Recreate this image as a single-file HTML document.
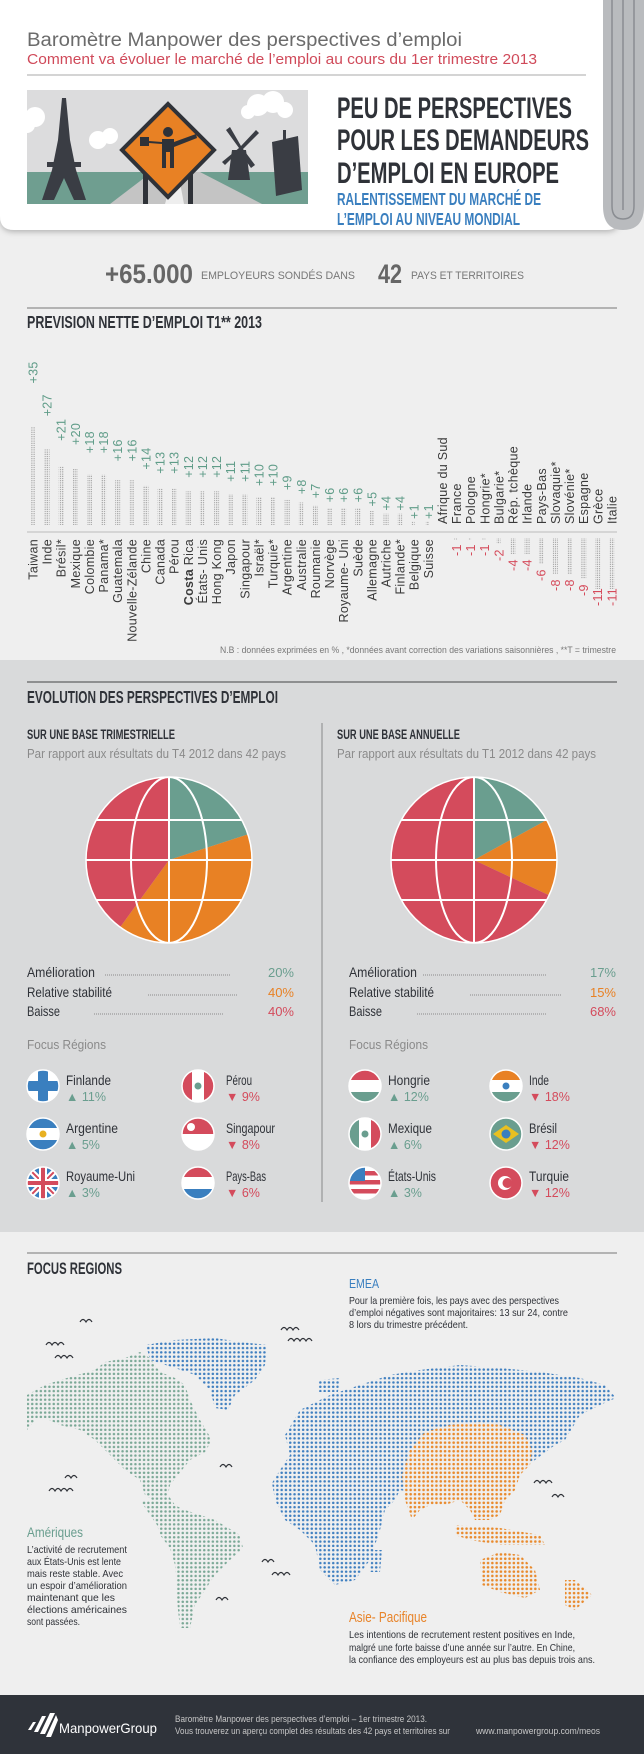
<!DOCTYPE html>
<html><head><meta charset="utf-8"><style>html,body{margin:0;padding:0;background:#efefef}svg{display:block}</style></head><body>
<svg width="644" height="1754" viewBox="0 0 644 1754" xmlns="http://www.w3.org/2000/svg" font-family="'Liberation Sans', sans-serif">
<defs>
<pattern id="dp" patternUnits="userSpaceOnUse" width="2.2" height="2.2"><circle cx="1.1" cy="1.1" r="0.6" fill="#8a8a8a"/></pattern>
<pattern id="mg" patternUnits="userSpaceOnUse" width="4.3" height="4.3"><circle cx="2.15" cy="2.15" r="1.25" fill="#7aa896"/></pattern>
<pattern id="mb" patternUnits="userSpaceOnUse" width="4.3" height="4.3"><circle cx="2.15" cy="2.15" r="1.25" fill="#3f7fc0"/></pattern>
<pattern id="mo" patternUnits="userSpaceOnUse" width="4.3" height="4.3"><rect width="4.3" height="4.3" fill="#efefef"/><circle cx="2.15" cy="2.15" r="1.3" fill="#e98a2c"/></pattern>
<clipPath id="cl"><circle cx="169" cy="860" r="83"/></clipPath>
<clipPath id="cr"><circle cx="474" cy="860" r="83"/></clipPath>
<filter id="sh" x="-5%" y="-5%" width="110%" height="120%"><feDropShadow dx="0" dy="2" stdDeviation="3" flood-color="#000" flood-opacity="0.25"/></filter>
<clipPath id="fc"><circle r="16"/></clipPath>
</defs>

<!-- backgrounds -->
<rect width="644" height="1754" fill="#efefef"/>
<rect y="660" width="644" height="572" fill="#d9dadb"/>

<!-- header card -->
<path d="M0 0 H620 V216 Q620 230 606 230 H14 Q0 230 0 216 Z" fill="#fff" filter="url(#sh)"/>
<path d="M603 0 H644 V206 Q644 230 623 230 Q603 230 603 206 Z" fill="#b9bbbe"/>
<path d="M612 0 V206 Q612 219 623 219 Q634 219 634 206 V0" fill="none" stroke="#8a8d92" stroke-width="1.5"/>
<path d="M623 0 V210" fill="none" stroke="#8a8d92" stroke-width="1.5"/>

<text x="27" y="46" font-size="19" fill="#6b6b6b" textLength="435" lengthAdjust="spacingAndGlyphs">Baromètre Manpower des perspectives d’emploi</text>
<text x="27" y="64" font-size="14.5" fill="#d04a5a" textLength="510" lengthAdjust="spacingAndGlyphs">Comment va évoluer le marché de l’emploi au cours du 1er trimestre 2013</text>
<line x1="27" y1="75" x2="586" y2="75" stroke="#aaa" stroke-width="1"/>

<!-- illustration -->
<g>
<rect x="27" y="90" width="281" height="114" fill="#dcdcdd"/>
<rect x="27" y="172" width="281" height="32" fill="#6f9e90"/>
<circle cx="35" cy="117" r="10" fill="#fff"/><circle cx="27" cy="125" r="8" fill="#fff"/>
<circle cx="98" cy="140" r="9" fill="#fff"/><circle cx="110" cy="136" r="8" fill="#fff"/>
<circle cx="258" cy="105" r="11" fill="#fff"/><circle cx="273" cy="102" r="11" fill="#fff"/><circle cx="285" cy="110" r="8" fill="#fff"/><circle cx="248" cy="112" r="7" fill="#fff"/>
<path d="M110 204 L152 172 H200 L262 204 Z" fill="#c4c4c4"/>
<path d="M165 204 L174 172 H178 L184 204 Z" fill="#eee"/>
<path d="M62 98 L66 98 L70 140 L76 170 L86 200 L74 200 L64 178 L54 200 L42 200 L52 170 L58 140 Z" fill="#3a3d44"/>
<rect x="47" y="162" width="34" height="5" fill="#3a3d44"/>
<rect x="143" y="170" width="5" height="34" fill="#2f3238"/><rect x="188" y="170" width="5" height="34" fill="#2f3238"/>
<path d="M168 104 L214 150 L168 197 L122 150 Z" fill="#e88124" stroke="#2f3238" stroke-width="4"/>
<circle cx="168" cy="132" r="5" fill="#2f3238"/>
<path d="M162 139 H174 V168 H170 V152 H166 V168 H162 Z" fill="#2f3238"/>
<path d="M174 142 L196 134 L197 138 L174 147 Z" fill="#2f3238"/>
<rect x="140" y="137" width="9" height="9" fill="#2f3238"/><line x1="149" y1="142" x2="162" y2="143" stroke="#2f3238" stroke-width="2"/>
<path d="M232 150 L246 150 L250 180 L228 180 Z" fill="#3a3d44"/>
<path d="M239 148 L226 130 L230 127 L241 146 L256 130 L259 133 L243 149 L255 165 L251 168 L239 151 L225 165 L222 162 Z" fill="#3a3d44"/>
<path d="M272 142 L298 136 L302 190 L276 196 Z" fill="#3a3d44"/>
<rect x="283" y="130" width="3" height="10" fill="#3a3d44"/>
</g>

<g font-family="'Liberation Sans Narrow','Liberation Sans',sans-serif" font-weight="bold" fill="#2f3238">
<text x="337" y="118" font-size="30" textLength="235" lengthAdjust="spacingAndGlyphs">PEU DE PERSPECTIVES</text>
<text x="337" y="150" font-size="30" textLength="252" lengthAdjust="spacingAndGlyphs">POUR LES DEMANDEURS</text>
<text x="337" y="183" font-size="30" textLength="222" lengthAdjust="spacingAndGlyphs">D’EMPLOI EN EUROPE</text>
<text x="337" y="205" font-size="17.5" fill="#3a7fbf" textLength="204" lengthAdjust="spacingAndGlyphs">RALENTISSEMENT DU MARCHÉ DE</text>
<text x="337" y="225" font-size="17.5" fill="#3a7fbf" textLength="183" lengthAdjust="spacingAndGlyphs">L’EMPLOI AU NIVEAU MONDIAL</text>
<text x="105" y="283" font-size="27" fill="#666" textLength="88" lengthAdjust="spacingAndGlyphs">+65.000</text>
<text x="378" y="283" font-size="27" fill="#666" textLength="24" lengthAdjust="spacingAndGlyphs">42</text>
<text x="27" y="328" font-size="17.5" textLength="235" lengthAdjust="spacingAndGlyphs">PREVISION NETTE D’EMPLOI T1** 2013</text>
</g>
<text x="201" y="279" font-size="11" fill="#777" textLength="154" lengthAdjust="spacingAndGlyphs">EMPLOYEURS SONDÉS DANS</text>
<text x="411" y="279" font-size="11" fill="#777" textLength="113" lengthAdjust="spacingAndGlyphs">PAYS ET TERRITOIRES</text>
<line x1="27" y1="308" x2="617" y2="308" stroke="#777" stroke-width="1"/>

<!-- bar chart -->
<line x1="27" y1="532" x2="617" y2="532" stroke="#bbb" stroke-width="1"/>
<g font-size="12.5" fill="#3a3a3a" letter-spacing="0.3">
<!-- positives: bars -->
<g fill="url(#dp)">
<rect x="30.5" y="427" width="5" height="98"/>
<rect x="44.6" y="449.4" width="5" height="75.6"/>
<rect x="58.7" y="466.2" width="5" height="58.8"/>
<rect x="72.9" y="469" width="5" height="56"/>
<rect x="87" y="474.6" width="5" height="50.4"/>
<rect x="101.1" y="474.6" width="5" height="50.4"/>
<rect x="115.2" y="480.2" width="5" height="44.8"/>
<rect x="129.3" y="480.2" width="5" height="44.8"/>
<rect x="143.5" y="485.8" width="5" height="39.2"/>
<rect x="157.6" y="488.6" width="5" height="36.4"/>
<rect x="171.7" y="488.6" width="5" height="36.4"/>
<rect x="185.8" y="491.4" width="5" height="33.6"/>
<rect x="199.9" y="491.4" width="5" height="33.6"/>
<rect x="214.1" y="491.4" width="5" height="33.6"/>
<rect x="228.2" y="494.2" width="5" height="30.8"/>
<rect x="242.3" y="494.2" width="5" height="30.8"/>
<rect x="256.4" y="497" width="5" height="28"/>
<rect x="270.5" y="497" width="5" height="28"/>
<rect x="284.7" y="499.8" width="5" height="25.2"/>
<rect x="298.8" y="502.6" width="5" height="22.4"/>
<rect x="312.9" y="505.4" width="5" height="19.6"/>
<rect x="327" y="508.2" width="5" height="16.8"/>
<rect x="341.1" y="508.2" width="5" height="16.8"/>
<rect x="355.3" y="508.2" width="5" height="16.8"/>
<rect x="369.4" y="511" width="5" height="14"/>
<rect x="383.5" y="513.8" width="5" height="11.2"/>
<rect x="397.6" y="513.8" width="5" height="11.2"/>
<rect x="411.7" y="521" width="3" height="4"/>
<rect x="425.9" y="521" width="3" height="4"/>
<!-- negatives -->
<rect x="454.1" y="538" width="3" height="2"/>
<rect x="468.2" y="538" width="3" height="2"/>
<rect x="482.3" y="538" width="3" height="2"/>
<rect x="496.5" y="538" width="4" height="6"/>
<rect x="510.6" y="538" width="5" height="16"/>
<rect x="524.7" y="538" width="5" height="16"/>
<rect x="538.8" y="538" width="5" height="26"/>
<rect x="552.9" y="538" width="5" height="36"/>
<rect x="567.1" y="538" width="5" height="36"/>
<rect x="581.2" y="538" width="5" height="41"/>
<rect x="595.3" y="538" width="5" height="51"/>
<rect x="609.4" y="538" width="5" height="51"/>
<rect x="623.5" y="538" width="0" height="0"/>
</g>
<!-- positive values -->
<g fill="#5f9c88">
<text transform="translate(37.5,383.5) rotate(-90)">+35</text>
<text transform="translate(51.6,416.3) rotate(-90)">+27</text>
<text transform="translate(65.7,440.9) rotate(-90)">+21</text>
<text transform="translate(79.9,445) rotate(-90)">+20</text>
<text transform="translate(94,453.2) rotate(-90)">+18</text>
<text transform="translate(108.1,453.2) rotate(-90)">+18</text>
<text transform="translate(122.2,461.4) rotate(-90)">+16</text>
<text transform="translate(136.3,461.4) rotate(-90)">+16</text>
<text transform="translate(150.5,469.6) rotate(-90)">+14</text>
<text transform="translate(164.6,473.7) rotate(-90)">+13</text>
<text transform="translate(178.7,473.7) rotate(-90)">+13</text>
<text transform="translate(192.8,477.8) rotate(-90)">+12</text>
<text transform="translate(206.9,477.8) rotate(-90)">+12</text>
<text transform="translate(221.1,477.8) rotate(-90)">+12</text>
<text transform="translate(235.2,481.9) rotate(-90)">+11</text>
<text transform="translate(249.3,481.9) rotate(-90)">+11</text>
<text transform="translate(263.4,486) rotate(-90)">+10</text>
<text transform="translate(277.5,486) rotate(-90)">+10</text>
<text transform="translate(291.7,490.1) rotate(-90)">+9</text>
<text transform="translate(305.8,494.2) rotate(-90)">+8</text>
<text transform="translate(319.9,498.3) rotate(-90)">+7</text>
<text transform="translate(334,502.4) rotate(-90)">+6</text>
<text transform="translate(348.1,502.4) rotate(-90)">+6</text>
<text transform="translate(362.3,502.4) rotate(-90)">+6</text>
<text transform="translate(376.4,506.5) rotate(-90)">+5</text>
<text transform="translate(390.5,510.6) rotate(-90)">+4</text>
<text transform="translate(404.6,510.6) rotate(-90)">+4</text>
<text transform="translate(418.7,519) rotate(-90)">+1</text>
<text transform="translate(432.9,519) rotate(-90)">+1</text>
</g>
<!-- positive names -->
<g text-anchor="end">
<text transform="translate(37.5,539) rotate(-90)">Taiwan</text>
<text transform="translate(51.6,539) rotate(-90)">Inde</text>
<text transform="translate(65.7,539) rotate(-90)">Brésil*</text>
<text transform="translate(79.9,539) rotate(-90)">Mexique</text>
<text transform="translate(94,539) rotate(-90)">Colombie</text>
<text transform="translate(108.1,539) rotate(-90)">Panama*</text>
<text transform="translate(122.2,539) rotate(-90)">Guatemala</text>
<text transform="translate(136.3,539) rotate(-90)">Nouvelle-Zélande</text>
<text transform="translate(150.5,539) rotate(-90)">Chine</text>
<text transform="translate(164.6,539) rotate(-90)">Canada</text>
<text transform="translate(178.7,539) rotate(-90)">Pérou</text>
<text transform="translate(192.8,539) rotate(-90)"><tspan font-weight="bold">Costa</tspan> Rica</text>
<text transform="translate(206.9,539) rotate(-90)">États- Unis</text>
<text transform="translate(221.1,539) rotate(-90)">Hong Kong</text>
<text transform="translate(235.2,539) rotate(-90)">Japon</text>
<text transform="translate(249.3,539) rotate(-90)">Singapour</text>
<text transform="translate(263.4,539) rotate(-90)">Israël*</text>
<text transform="translate(277.5,539) rotate(-90)">Turquie*</text>
<text transform="translate(291.7,539) rotate(-90)">Argentine</text>
<text transform="translate(305.8,539) rotate(-90)">Australie</text>
<text transform="translate(319.9,539) rotate(-90)">Roumanie</text>
<text transform="translate(334,539) rotate(-90)">Norvège</text>
<text transform="translate(348.1,539) rotate(-90)">Royaume- Uni</text>
<text transform="translate(362.3,539) rotate(-90)">Suède</text>
<text transform="translate(376.4,539) rotate(-90)">Allemagne</text>
<text transform="translate(390.5,539) rotate(-90)">Autriche</text>
<text transform="translate(404.6,539) rotate(-90)">Finlande*</text>
<text transform="translate(418.7,539) rotate(-90)">Belgique</text>
<text transform="translate(432.9,539) rotate(-90)">Suisse</text>
</g>
<!-- negative names -->
<g>
<text transform="translate(447,524) rotate(-90)">Afrique du  Sud</text>
<text transform="translate(461.1,524) rotate(-90)">France</text>
<text transform="translate(475.2,524) rotate(-90)">Pologne</text>
<text transform="translate(489.3,524) rotate(-90)">Hongrie*</text>
<text transform="translate(503.5,524) rotate(-90)">Bulgarie*</text>
<text transform="translate(517.6,524) rotate(-90)">Rép. tchèque</text>
<text transform="translate(531.7,524) rotate(-90)">Irlande</text>
<text transform="translate(545.8,524) rotate(-90)">Pays-Bas</text>
<text transform="translate(559.9,524) rotate(-90)">Slovaquie*</text>
<text transform="translate(574.1,524) rotate(-90)">Slovénie*</text>
<text transform="translate(588.2,524) rotate(-90)">Espagne</text>
<text transform="translate(602.3,524) rotate(-90)">Grèce</text>
<text transform="translate(616.4,524) rotate(-90)">Italie</text>
</g>
<g fill="#d54b5b">
<text transform="translate(461,556) rotate(-90)">-1</text>
<text transform="translate(475.1,556) rotate(-90)">-1</text>
<text transform="translate(489.2,556) rotate(-90)">-1</text>
<text transform="translate(503.4,561) rotate(-90)">-2</text>
<text transform="translate(517.5,571) rotate(-90)">-4</text>
<text transform="translate(531.6,571) rotate(-90)">-4</text>
<text transform="translate(545.7,581) rotate(-90)">-6</text>
<text transform="translate(559.8,591) rotate(-90)">-8</text>
<text transform="translate(574,591) rotate(-90)">-8</text>
<text transform="translate(588.1,596) rotate(-90)">-9</text>
<text transform="translate(602.2,606) rotate(-90)">-11</text>
<text transform="translate(616.3,606) rotate(-90)">-11</text>
<text transform="translate(630.4,606) rotate(-90)"></text>
</g>
</g>
<text x="220" y="653" font-size="9.5" fill="#777" textLength="396" lengthAdjust="spacingAndGlyphs">N.B : données exprimées en % , *données avant correction des variations saisonnières , **T = trimestre</text>

<!-- section 2 -->
<line x1="27" y1="682" x2="617" y2="682" stroke="#444" stroke-width="1"/>
<line x1="322" y1="723" x2="322" y2="1202" stroke="#888" stroke-width="1"/>
<g font-family="'Liberation Sans Narrow','Liberation Sans',sans-serif" font-weight="bold" fill="#2f3238">
<text x="27" y="703" font-size="17.5" textLength="251" lengthAdjust="spacingAndGlyphs">EVOLUTION DES PERSPECTIVES D’EMPLOI</text>
<text x="27" y="739" font-size="13.5" textLength="148" lengthAdjust="spacingAndGlyphs">SUR UNE BASE TRIMESTRIELLE</text>
<text x="337" y="739" font-size="13.5" textLength="123" lengthAdjust="spacingAndGlyphs">SUR UNE BASE ANNUELLE</text>
</g>
<text x="27" y="758" font-size="12.5" fill="#8a8a8a" textLength="259" lengthAdjust="spacingAndGlyphs">Par rapport aux résultats du T4 2012 dans 42 pays</text>
<text x="337" y="758" font-size="12.5" fill="#8a8a8a" textLength="259" lengthAdjust="spacingAndGlyphs">Par rapport aux résultats du T1 2012 dans 42 pays</text>

<!-- left pie -->
<g>
<path d="M169 860 L169 777 A83 83 0 0 1 247.9 834.4 Z" fill="#6a9e8f"/>
<path d="M169 860 L247.9 834.4 A83 83 0 0 1 120.2 927.1 Z" fill="#e88124"/>
<path d="M169 860 L120.2 927.1 A83 83 0 0 1 169 777 Z" fill="#d44b5c"/>
<g clip-path="url(#cl)" stroke="#fff" stroke-width="2" fill="none">
<line x1="169" y1="770" x2="169" y2="950"/><line x1="80" y1="820" x2="260" y2="820"/><line x1="80" y1="860" x2="260" y2="860"/><line x1="80" y1="900" x2="260" y2="900"/>
<ellipse cx="169" cy="860" rx="38" ry="83"/>
</g>
<circle cx="169" cy="860" r="83" fill="none" stroke="#fff" stroke-width="1.5"/>
</g>
<!-- right pie -->
<g>
<path d="M474 860 L474 777 A83 83 0 0 1 546.7 820 Z" fill="#6a9e8f"/>
<path d="M474 860 L546.7 820 A83 83 0 0 1 549.1 895.3 Z" fill="#e88124"/>
<path d="M474 860 L549.1 895.3 A83 83 0 1 1 474 777 Z" fill="#d44b5c"/>
<g clip-path="url(#cr)" stroke="#fff" stroke-width="2" fill="none">
<line x1="474" y1="770" x2="474" y2="950"/><line x1="385" y1="820" x2="565" y2="820"/><line x1="385" y1="860" x2="565" y2="860"/><line x1="385" y1="900" x2="565" y2="900"/>
<ellipse cx="474" cy="860" rx="38" ry="83"/>
</g>
<circle cx="474" cy="860" r="83" fill="none" stroke="#fff" stroke-width="1.5"/>
</g>

<!-- legends -->
<g font-family="'Liberation Sans Narrow','Liberation Sans',sans-serif" font-size="14" fill="#2f3238">
<text x="27" y="977" textLength="68" lengthAdjust="spacingAndGlyphs">Amélioration</text>
<text x="27" y="997" textLength="85" lengthAdjust="spacingAndGlyphs">Relative stabilité</text>
<text x="27" y="1016" textLength="33" lengthAdjust="spacingAndGlyphs">Baisse</text>
<text x="349" y="977" textLength="68" lengthAdjust="spacingAndGlyphs">Amélioration</text>
<text x="349" y="997" textLength="85" lengthAdjust="spacingAndGlyphs">Relative stabilité</text>
<text x="349" y="1016" textLength="33" lengthAdjust="spacingAndGlyphs">Baisse</text>
</g>
<g stroke="#777" stroke-width="1" stroke-dasharray="0.8 1.2">
<line x1="105" y1="975" x2="230" y2="975"/><line x1="148" y1="995" x2="238" y2="995"/><line x1="94" y1="1014" x2="224" y2="1014"/>
<line x1="423" y1="975" x2="546" y2="975"/><line x1="470" y1="995" x2="561" y2="995"/><line x1="417" y1="1014" x2="546" y2="1014"/>
</g>
<g font-size="13" text-anchor="end">
<text x="294" y="977" fill="#6a9e8f">20%</text><text x="294" y="997" fill="#e88124">40%</text><text x="294" y="1016" fill="#d44b5c">40%</text>
<text x="616" y="977" fill="#6a9e8f">17%</text><text x="616" y="997" fill="#e88124">15%</text><text x="616" y="1016" fill="#d44b5c">68%</text>
</g>
<text x="27" y="1049" font-size="12.5" fill="#8a8a8a" textLength="79" lengthAdjust="spacingAndGlyphs">Focus  Régions</text>
<text x="349" y="1049" font-size="12.5" fill="#8a8a8a" textLength="79" lengthAdjust="spacingAndGlyphs">Focus  Régions</text>

<!-- flags -->
<g transform="translate(43,1086)"><g clip-path="url(#fc)"><rect x="-16" y="-16" width="32" height="32" fill="#fff"/><rect x="-5" y="-16" width="10" height="32" fill="#3a7fbf"/><rect x="-16" y="-5" width="32" height="10" fill="#3a7fbf"/></g><circle r="16" fill="none" stroke="#fff" stroke-width="1.5"/></g>
<g transform="translate(198,1086)"><g clip-path="url(#fc)"><rect x="-16" y="-16" width="32" height="32" fill="#fff"/><rect x="-16" y="-16" width="10" height="32" fill="#d44b5c"/><rect x="6" y="-16" width="10" height="32" fill="#d44b5c"/><circle r="3.5" fill="#6a9e8f"/></g><circle r="16" fill="none" stroke="#fff" stroke-width="1.5"/></g>
<g transform="translate(43,1134)"><g clip-path="url(#fc)"><rect x="-16" y="-16" width="32" height="32" fill="#fff"/><rect x="-16" y="-16" width="32" height="10" fill="#3a7fbf"/><rect x="-16" y="6" width="32" height="10" fill="#3a7fbf"/><circle r="3.5" fill="#e8b020"/></g><circle r="16" fill="none" stroke="#fff" stroke-width="1.5"/></g>
<g transform="translate(198,1134)"><g clip-path="url(#fc)"><rect x="-16" y="-16" width="32" height="32" fill="#fff"/><rect x="-16" y="-16" width="32" height="16" fill="#d44b5c"/><circle cx="-7" cy="-7" r="4" fill="#fff"/></g><circle r="16" fill="none" stroke="#fff" stroke-width="1.5"/></g>
<g transform="translate(43,1183)"><g clip-path="url(#fc)"><rect x="-16" y="-16" width="32" height="32" fill="#3a7fbf"/><path d="M-16 -16 L16 16 M16 -16 L-16 16" stroke="#fff" stroke-width="6"/><path d="M-16 -16 L16 16 M16 -16 L-16 16" stroke="#d44b5c" stroke-width="2"/><path d="M0 -16 V16 M-16 0 H16" stroke="#fff" stroke-width="8"/><path d="M0 -16 V16 M-16 0 H16" stroke="#d44b5c" stroke-width="4"/></g><circle r="16" fill="none" stroke="#fff" stroke-width="1.5"/></g>
<g transform="translate(198,1183)"><g clip-path="url(#fc)"><rect x="-16" y="-16" width="32" height="32" fill="#fff"/><rect x="-16" y="-16" width="32" height="10" fill="#d44b5c"/><rect x="-16" y="6" width="32" height="10" fill="#3a7fbf"/></g><circle r="16" fill="none" stroke="#fff" stroke-width="1.5"/></g>
<g transform="translate(365,1086)"><g clip-path="url(#fc)"><rect x="-16" y="-16" width="32" height="32" fill="#fff"/><rect x="-16" y="-16" width="32" height="10" fill="#d44b5c"/><rect x="-16" y="6" width="32" height="10" fill="#6a9e8f"/></g><circle r="16" fill="none" stroke="#fff" stroke-width="1.5"/></g>
<g transform="translate(506,1086)"><g clip-path="url(#fc)"><rect x="-16" y="-16" width="32" height="32" fill="#fff"/><rect x="-16" y="-16" width="32" height="10" fill="#e88124"/><rect x="-16" y="6" width="32" height="10" fill="#6a9e8f"/><circle r="3.5" fill="#3a7fbf"/></g><circle r="16" fill="none" stroke="#fff" stroke-width="1.5"/></g>
<g transform="translate(365,1134)"><g clip-path="url(#fc)"><rect x="-16" y="-16" width="32" height="32" fill="#fff"/><rect x="-16" y="-16" width="10" height="32" fill="#6a9e8f"/><rect x="6" y="-16" width="10" height="32" fill="#d44b5c"/><circle r="3.5" fill="#6a9e8f"/></g><circle r="16" fill="none" stroke="#fff" stroke-width="1.5"/></g>
<g transform="translate(506,1134)"><g clip-path="url(#fc)"><rect x="-16" y="-16" width="32" height="32" fill="#6a9e8f"/><path d="M-13 0 L0 -9 L13 0 L0 9 Z" fill="#e8c020"/><circle r="4.5" fill="#3a7fbf"/></g><circle r="16" fill="none" stroke="#fff" stroke-width="1.5"/></g>
<g transform="translate(365,1183)"><g clip-path="url(#fc)"><rect x="-16" y="-16" width="32" height="32" fill="#fff"/><rect x="-16" y="-12" width="32" height="4.5" fill="#d44b5c"/><rect x="-16" y="-3" width="32" height="4.5" fill="#d44b5c"/><rect x="-16" y="6" width="32" height="4.5" fill="#d44b5c"/><rect x="-16" y="-16" width="16" height="14" fill="#3a7fbf"/></g><circle r="16" fill="none" stroke="#fff" stroke-width="1.5"/></g>
<g transform="translate(506,1183)"><g clip-path="url(#fc)"><rect x="-16" y="-16" width="32" height="32" fill="#d44b5c"/><circle cx="-1" r="7" fill="#fff"/><circle cx="1.5" r="5" fill="#d44b5c"/></g><circle r="16" fill="none" stroke="#fff" stroke-width="1.5"/></g>

<g font-family="'Liberation Sans Narrow','Liberation Sans',sans-serif" font-size="14" fill="#2f3238">
<text x="66" y="1085" textLength="45" lengthAdjust="spacingAndGlyphs">Finlande</text>
<text x="226" y="1085" textLength="26" lengthAdjust="spacingAndGlyphs">Pérou</text>
<text x="66" y="1133" textLength="52" lengthAdjust="spacingAndGlyphs">Argentine</text>
<text x="226" y="1133" textLength="49" lengthAdjust="spacingAndGlyphs">Singapour</text>
<text x="66" y="1181" textLength="69" lengthAdjust="spacingAndGlyphs">Royaume-Uni</text>
<text x="226" y="1181" textLength="40" lengthAdjust="spacingAndGlyphs">Pays-Bas</text>
<text x="388" y="1085" textLength="42" lengthAdjust="spacingAndGlyphs">Hongrie</text>
<text x="529" y="1085" textLength="20" lengthAdjust="spacingAndGlyphs">Inde</text>
<text x="388" y="1133" textLength="44" lengthAdjust="spacingAndGlyphs">Mexique</text>
<text x="529" y="1133" textLength="28" lengthAdjust="spacingAndGlyphs">Brésil</text>
<text x="388" y="1181" textLength="48" lengthAdjust="spacingAndGlyphs">États-Unis</text>
<text x="529" y="1181" textLength="40" lengthAdjust="spacingAndGlyphs">Turquie</text>
</g>
<g font-size="12.5">
<text x="66" y="1101" fill="#6a9e8f">▲ 11%</text>
<text x="226" y="1101" fill="#d44b5c">▼ 9%</text>
<text x="66" y="1149" fill="#6a9e8f">▲ 5%</text>
<text x="226" y="1149" fill="#d44b5c">▼ 8%</text>
<text x="66" y="1197" fill="#6a9e8f">▲ 3%</text>
<text x="226" y="1197" fill="#d44b5c">▼ 6%</text>
<text x="388" y="1101" fill="#6a9e8f">▲ 12%</text>
<text x="529" y="1101" fill="#d44b5c">▼ 18%</text>
<text x="388" y="1149" fill="#6a9e8f">▲ 6%</text>
<text x="529" y="1149" fill="#d44b5c">▼ 12%</text>
<text x="388" y="1197" fill="#6a9e8f">▲ 3%</text>
<text x="529" y="1197" fill="#d44b5c">▼ 12%</text>
</g>

<!-- section 3 -->
<line x1="27" y1="1253" x2="617" y2="1253" stroke="#777" stroke-width="1"/>
<text x="27" y="1274" font-family="'Liberation Sans Narrow','Liberation Sans',sans-serif" font-weight="bold" font-size="17" fill="#2f3238" textLength="95" lengthAdjust="spacingAndGlyphs">FOCUS REGIONS</text>
<text x="349" y="1288" font-size="13" fill="#3a7fbf" textLength="30" lengthAdjust="spacingAndGlyphs">EMEA</text>
<g font-size="10.5" fill="#2f3238">
<text x="349" y="1304" textLength="210" lengthAdjust="spacingAndGlyphs">Pour la première fois, les pays avec des perspectives</text>
<text x="349" y="1316" textLength="219" lengthAdjust="spacingAndGlyphs">d’emploi négatives sont majoritaires: 13 sur 24, contre</text>
<text x="349" y="1328" textLength="119" lengthAdjust="spacingAndGlyphs">8 lors du trimestre précédent.</text>
</g>

<!-- map -->
<g>
<path fill="url(#mg)" d="M27 1395 L45 1385 L60 1380 L95 1370 L105 1362 L125 1358 L140 1352 L150 1358 L160 1372 L175 1378 L185 1385 L190 1400 L200 1420 L212 1440 L205 1452 L190 1460 L178 1475 L170 1485 L168 1495 L175 1505 L160 1505 L145 1495 L140 1480 L125 1470 L110 1455 L95 1440 L80 1430 L60 1425 L45 1418 L35 1420 L27 1430 Z"/>
<path fill="url(#mg)" d="M140 1500 L170 1503 L185 1510 L215 1520 L240 1535 L243 1548 L230 1560 L215 1575 L205 1590 L195 1605 L190 1628 L180 1628 L178 1610 L176 1585 L175 1565 L170 1548 L160 1535 L157 1525 L150 1515 Z"/>
<path fill="url(#mb)" d="M146 1345 L175 1340 L215 1338 L240 1342 L267 1345 L265 1365 L255 1380 L235 1395 L228 1410 L215 1408 L210 1390 L195 1375 L175 1368 L150 1360 Z"/>
<path fill="url(#mb)" d="M318 1380 L340 1378 L338 1392 L318 1392 Z"/>
<path fill="url(#mb)" d="M285 1435 L300 1410 L330 1395 L360 1385 L390 1375 L420 1370 L460 1365 L500 1368 L540 1372 L580 1378 L605 1385 L616 1398 L600 1405 L580 1415 L565 1440 L555 1445 L535 1460 L520 1470 L510 1490 L450 1500 L400 1490 L395 1500 L385 1510 L380 1530 L370 1560 L355 1580 L335 1585 L320 1570 L315 1545 L300 1530 L285 1520 L275 1500 L272 1483 L280 1470 L290 1455 Z"/>
<path fill="url(#mb)" d="M372 1550 L382 1550 L380 1572 L370 1572 Z"/>
<path fill="url(#mo)" d="M402 1475 L410 1450 L425 1432 L450 1425 L480 1422 L500 1425 L525 1435 L532 1450 L530 1465 L520 1475 L515 1490 L505 1500 L500 1515 L490 1520 L475 1520 L470 1510 L460 1500 L445 1505 L430 1505 L420 1510 L412 1520 L405 1500 Z"/>
<path fill="url(#mo)" d="M455 1525 L500 1528 L540 1535 L545 1545 L500 1545 L470 1540 L455 1535 Z"/>
<path fill="url(#mo)" d="M480 1560 L500 1552 L520 1555 L535 1570 L540 1590 L525 1598 L500 1592 L482 1585 Z"/>
<path fill="url(#mo)" d="M565 1580 L575 1580 L592 1595 L575 1610 L565 1605 Z"/>
</g>
<g fill="none" stroke="#2f3238" stroke-width="1.2">
<path d="M80 1322 q3 -5 6 0 q3 -5 6 0"/>
<path d="M46 1345 q3 -5 6 0 q3 -5 6 0 q3 -5 6 0"/>
<path d="M55 1358 q3 -5 6 0 q3 -5 6 0 q3 -5 6 0"/>
<path d="M281 1330 q3 -5 6 0 q3 -5 6 0 q3 -5 6 0"/>
<path d="M288 1341 q3 -5 6 0 q3 -5 6 0 q3 -5 6 0 q3 -5 6 0"/>
<path d="M220 1467 q3 -5 6 0 q3 -5 6 0"/>
<path d="M65 1478 q3 -5 6 0 q3 -5 6 0"/>
<path d="M49 1491 q3 -5 6 0 q3 -5 6 0 q3 -5 6 0 q3 -5 6 0"/>
<path d="M534 1483 q3 -5 6 0 q3 -5 6 0 q3 -5 6 0"/>
<path d="M552 1497 q3 -5 6 0 q3 -5 6 0"/>
<path d="M262 1562 q3 -5 6 0 q3 -5 6 0"/>
<path d="M272 1575 q3 -5 6 0 q3 -5 6 0 q3 -5 6 0"/>
<path d="M216 1600 q3 -5 6 0 q3 -5 6 0"/>
</g>

<text x="27" y="1537" font-size="14" fill="#6a9e8f" textLength="56" lengthAdjust="spacingAndGlyphs">Amériques</text>
<g font-size="10.5" fill="#2f3238">
<text x="27" y="1553" textLength="100" lengthAdjust="spacingAndGlyphs">L’activité de recrutement</text>
<text x="27" y="1565" textLength="94" lengthAdjust="spacingAndGlyphs">aux États-Unis est lente</text>
<text x="27" y="1577" textLength="96" lengthAdjust="spacingAndGlyphs">mais reste stable. Avec</text>
<text x="27" y="1589" textLength="100" lengthAdjust="spacingAndGlyphs">un espoir d’amélioration</text>
<text x="27" y="1601" textLength="88" lengthAdjust="spacingAndGlyphs">maintenant que les</text>
<text x="27" y="1613" textLength="100" lengthAdjust="spacingAndGlyphs">élections américaines</text>
<text x="27" y="1625" textLength="53" lengthAdjust="spacingAndGlyphs">sont passées.</text>
</g>
<text x="349" y="1622" font-size="14.5" fill="#e8842a" textLength="78" lengthAdjust="spacingAndGlyphs">Asie- Pacifique</text>
<g font-size="10.5" fill="#2f3238">
<text x="349" y="1638" textLength="226" lengthAdjust="spacingAndGlyphs">Les intentions de recrutement restent positives en Inde,</text>
<text x="349" y="1651" textLength="226" lengthAdjust="spacingAndGlyphs">malgré une forte baisse d’une année sur l’autre. En Chine,</text>
<text x="349" y="1663" textLength="246" lengthAdjust="spacingAndGlyphs">la confiance des employeurs est au plus bas depuis trois ans.</text>
</g>

<!-- footer -->
<rect y="1695" width="644" height="59" fill="#2f333a"/>
<g fill="#fff">
<path d="M28 1730 L33 1722 L36 1722 L31 1730 Z"/>
<path d="M34 1732 L42 1716 L46 1716 L38 1732 Z"/>
<path d="M40 1734 L50 1713 L55 1713 L45 1734 Z"/>
<path d="M46 1737 L56 1715 L58 1720 L51 1737 Z"/>
</g>
<text x="59" y="1733" font-size="14" fill="#fff" textLength="98" lengthAdjust="spacingAndGlyphs">ManpowerGroup</text>
<g font-size="9.5" fill="#c8c8c8">
<text x="175" y="1722" textLength="252" lengthAdjust="spacingAndGlyphs">Baromètre Manpower des perspectives  d’emploi – 1er trimestre 2013.</text>
<text x="175" y="1734" textLength="275" lengthAdjust="spacingAndGlyphs">Vous trouverez un aperçu complet des résultats des 42 pays et territoires sur</text>
<text x="476" y="1734" textLength="124" lengthAdjust="spacingAndGlyphs">www.manpowergroup.com/meos</text>
</g>
</svg>
</body></html>
